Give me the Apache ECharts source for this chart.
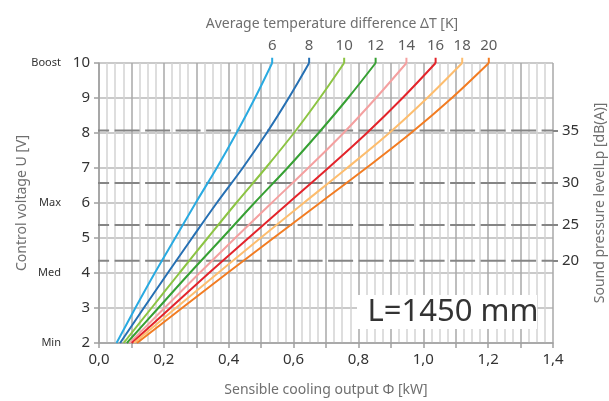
<!DOCTYPE html>
<html>
<head>
<meta charset="utf-8">
<script src="https://cdn.jsdelivr.net/npm/echarts@6/dist/echarts.min.js"></script>
<style>
    html, body { margin: 0; padding: 0; background: #fff; }
    #chart { width: 609px; height: 401px; }
</style>
</head>
<body>
<div id="chart"></div>
<script>
    // control voltage U [V] - rows of the curve table
    const voltage = [2, 3, 4, 5, 6, 7, 8, 9, 10];
    // sensible cooling output [kW] at each voltage, one array per ΔT
    const outputDT6 = [0.054, 0.112, 0.172, 0.235, 0.298, 0.363, 0.424, 0.481, 0.534];
    const outputDT8 = [0.065, 0.138, 0.212, 0.287, 0.363, 0.443, 0.517, 0.585, 0.648];
    const outputDT10 = [0.076, 0.162, 0.248, 0.335, 0.423, 0.514, 0.601, 0.681, 0.756];
    const outputDT12 = [0.086, 0.183, 0.280, 0.380, 0.479, 0.581, 0.677, 0.768, 0.853];
    const outputDT14 = [0.094, 0.202, 0.310, 0.420, 0.532, 0.645, 0.754, 0.854, 0.948];
    const outputDT16 = [0.101, 0.220, 0.339, 0.461, 0.584, 0.707, 0.826, 0.936, 1.038];
    const outputDT18 = [0.108, 0.237, 0.367, 0.498, 0.631, 0.765, 0.895, 1.012, 1.120];
    const outputDT20 = [0.117, 0.256, 0.396, 0.538, 0.681, 0.824, 0.962, 1.088, 1.202];
    const outputs = [outputDT6, outputDT8, outputDT10, outputDT12, outputDT14, outputDT16, outputDT18, outputDT20];

    const deltaT = [6, 8, 10, 12, 14, 16, 18, 20];
    const curveColors = ['#29aae1', '#2670b3', '#8cc443', '#36a033', '#f4a0a0', '#e3242b', '#fdbd6e', '#f27c22'];

    // fan speed names on the voltage axis
    const speedNames = {2: 'Min', 4: 'Med', 6: 'Max', 10: 'Boost'};

    // sound pressure level [dB(A)] and the voltage where it is reached
    const soundLevel = [20, 25, 30, 35];
    const soundVoltage = [4.35, 5.37, 6.57, 8.07];

    const TIP = 10.15; // short vertical stub above the plot, under the ΔT label

    const chart = echarts.init(document.getElementById('chart'));

    const curveSeries = outputs.map((out, i) => ({
        type: 'line',
        name: 'ΔT ' + deltaT[i],
        data: voltage.map((u, k) => [out[k], u]),
        smooth: 0.35,
        symbol: 'none',
        silent: true,
        lineStyle: {color: curveColors[i], width: 2},
        z: 4
    }));

    // vertical stubs from U=10 up to the labels
    const tipSeries = outputs.map((out, i) => ({
        type: 'line',
        data: [[out[out.length - 1], 10], [out[out.length - 1], TIP]],
        symbol: 'none',
        clip: false,
        silent: true,
        lineStyle: {color: curveColors[i], width: 2},
        z: 4
    }));

    const soundSeries = soundVoltage.map(u => ({
        type: 'line',
        data: [[-0.012, u], [1.4, u]],
        symbol: 'none',
        clip: false,
        silent: true,
        lineStyle: {color: '#858585', width: 2, type: [25, 5.5], dashOffset: 11},
        z: 3
    }));

    const labelSeries = {
        type: 'scatter',
        clip: false,
        silent: true,
        symbolSize: 1,
        itemStyle: {color: 'rgba(0,0,0,0)'},
        label: {show: true, position: 'top', distance: 4, color: '#333', fontSize: 15, fontFamily: 'Noto Sans'},
        data: outputs.map((out, i) => ({
            value: [out[out.length - 1], TIP],
            label: {formatter: String(deltaT[i])}
        })),
        z: 5
    };

    chart.setOption({
        animation: false,
        textStyle: {fontFamily: 'Noto Sans'},
        title: {
            text: 'Average temperature difference ΔT [K]',
            left: 327,
            top: 12,
            textAlign: 'center',
            textStyle: {fontSize: 14, fontWeight: 'normal', color: '#6f6f6f', fontFamily: 'Noto Sans'}
        },
        grid: {left: 99, right: 56, top: 63, bottom: 58, containLabel: false, outerBoundsMode: 'none'},
        xAxis: {
            type: 'value',
            min: 0,
            max: 1.4,
            interval: 0.1,
            name: 'Sensible cooling output Φ [kW]',
            nameLocation: 'middle',
            nameGap: 40,
            nameMoveOverlap: false,
            nameTextStyle: {fontSize: 14, color: '#6f6f6f'},
            axisLine: {show: true, lineStyle: {color: '#a0a0a0', width: 1.5}},
            axisTick: {show: true, length: 5, lineStyle: {color: '#a0a0a0', width: 1.5}},
            axisLabel: {
                margin: 9,
                fontSize: 15,
                color: '#333',
                formatter: v => (Math.round(v * 10) % 2 === 0 ? v.toFixed(1).replace('.', ',') : '')
            },
            splitLine: {show: true, lineStyle: {color: '#a8a8a8', width: 1.5}},
            minorTick: {show: false, splitNumber: 4},
            minorSplitLine: {show: true, lineStyle: {color: '#d4d4d4', width: 1.5}}
        },
        yAxis: [{
            type: 'value',
            min: 2,
            max: 10,
            interval: 1,
            name: 'Control voltage U [V]',
            nameLocation: 'middle',
            nameRotate: 90,
            nameGap: 70,
            nameMoveOverlap: false,
            nameTextStyle: {fontSize: 14, color: '#6f6f6f'},
            axisLine: {show: true, lineStyle: {color: '#a0a0a0', width: 1.5}},
            axisTick: {show: true, length: 5, lineStyle: {color: '#a0a0a0', width: 1.5}},
            axisLabel: {
                margin: 9,
                formatter: v => (speedNames[v] ? '{s|' + speedNames[v] + '}{n|' + v + '}' : '{n|' + v + '}'),
                rich: {
                    s: {fontSize: 11, color: '#333', padding: [0, 11, 0, 0]},
                    n: {fontSize: 15, color: '#333', width: 18, align: 'right'}
                }
            },
            splitLine: {show: true, lineStyle: {color: '#b8b8b8', width: 1.5}}
        }, {
            type: 'value',
            position: 'right',
            min: 2,
            max: 10,
            name: 'Sound pressure levelLp [dB(A)]',
            nameLocation: 'middle',
            nameRotate: 90,
            nameGap: 40,
            nameTextStyle: {fontSize: 14, color: '#6f6f6f'},
            axisLine: {show: false},
            axisTick: {show: true, length: 5, customValues: soundVoltage, lineStyle: {color: '#858585', width: 2}},
            axisLabel: {
                margin: 9,
                fontSize: 15,
                color: '#333',
                customValues: soundVoltage,
                formatter: v => {
                    let best = 0;
                    soundVoltage.forEach((u, k) => {
                        if (Math.abs(u - v) < Math.abs(soundVoltage[best] - v)) {
                            best = k;
                        }
                    });
                    return String(soundLevel[best]);
                }
            },
            splitLine: {show: false}
        }],
        graphic: [{
            type: 'rect',
            shape: {x: 357, y: 295, width: 180, height: 34},
            style: {fill: '#fff'},
            z: 10
        }, {
            type: 'text',
            x: 453,
            y: 312,
            style: {
                text: 'L=1450 mm',
                fontSize: 31,
                fontFamily: 'Noto Sans',
                fill: '#333',
                align: 'center',
                verticalAlign: 'middle'
            },
            z: 11
        }],
        series: soundSeries.concat(curveSeries, tipSeries, [labelSeries])
    });
</script>
</body>
</html>
